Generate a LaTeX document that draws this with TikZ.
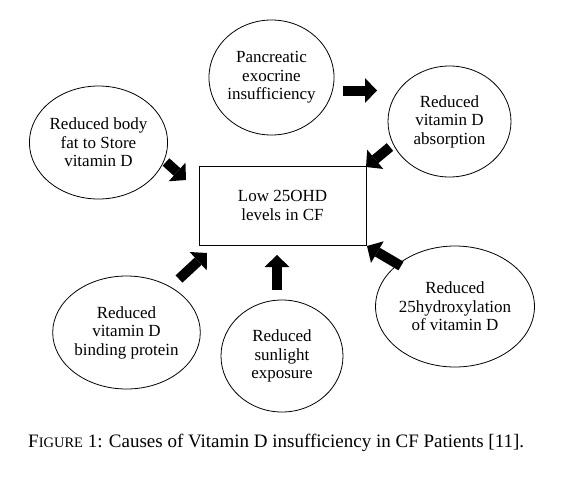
\documentclass[tikz,border=0pt]{standalone}
\usepackage{fontspec}
\setmainfont{Liberation Serif}
\usetikzlibrary{shapes.geometric,arrows.meta}
\begin{document}
\begin{tikzpicture}[x=1pt,y=-1pt,
  txt/.style={font=\fontsize{17}{18.5}\selectfont},
  captxt/.style={font=\fontsize{19}{21}\selectfont},
  cause/.style={draw, line width=0.8pt, ellipse, inner sep=0pt, align=center, txt},
  mainbox/.style={draw, line width=0.8pt, rectangle, inner sep=0pt, minimum width=167pt, minimum height=79pt, align=center, txt},
  fatarrow/.style={line width=10pt, -{Triangle[width=25pt,length=12pt,line width=0pt]}}]
\useasboundingbox[fill=white] (0,0) rectangle (568,480);
\node[mainbox] (box) at (282.5,205.5) {Low 25OHD\\levels in CF};
\node[cause, minimum width=123pt, minimum height=115pt] (panc) at (271.5,77.5) {Pancreatic\\exocrine\\insufficiency};
\node[cause, minimum width=123pt, minimum height=111pt] (absorb) at (449.5,121.5) {Reduced\\vitamin D\\absorption};
\node[cause, minimum width=133pt, minimum height=113pt] (fat) at (98.5,142.5) {Reduced body\\fat to Store\\vitamin D};
\node[cause, minimum width=123pt, minimum height=113pt] (bind) at (126.5,332.5) {Reduced\\vitamin D\\binding protein};
\node[cause, minimum width=122pt, minimum height=112pt] (sun) at (282,356) {Reduced\\sunlight\\exposure};
\node[cause, minimum width=134pt, minimum height=121pt] (hydro) at (455,306.5) {Reduced\\25hydroxylation\\of vitamin D};
\coordinate (a1s) at (343,90.5);  \coordinate (a1e) at (377,90.5);
\coordinate (a2s) at (390,147);   \coordinate (a2e) at (366,167);
\coordinate (a3s) at (166,162);   \coordinate (a3e) at (186,180);
\coordinate (a4s) at (179,279);   \coordinate (a4e) at (207,253);
\coordinate (a5s) at (277,290);   \coordinate (a5e) at (277,255);
\coordinate (a6s) at (401,266);   \coordinate (a6e) at (367,246);
\draw[fatarrow] (a1s) -- (a1e);
\draw[fatarrow] (a2s) -- (a2e);
\draw[fatarrow] (a3s) -- (a3e);
\draw[fatarrow] (a4s) -- (a4e);
\draw[fatarrow] (a5s) -- (a5e);
\draw[fatarrow] (a6s) -- (a6e);
\node[anchor=base west, captxt, inner sep=0pt] (cap) at (28,447) {F{\fontsize{14.5}{16}\selectfont IGURE} 1: Causes of Vitamin D insufficiency in CF Patients [11].};
\end{tikzpicture}
\end{document}
